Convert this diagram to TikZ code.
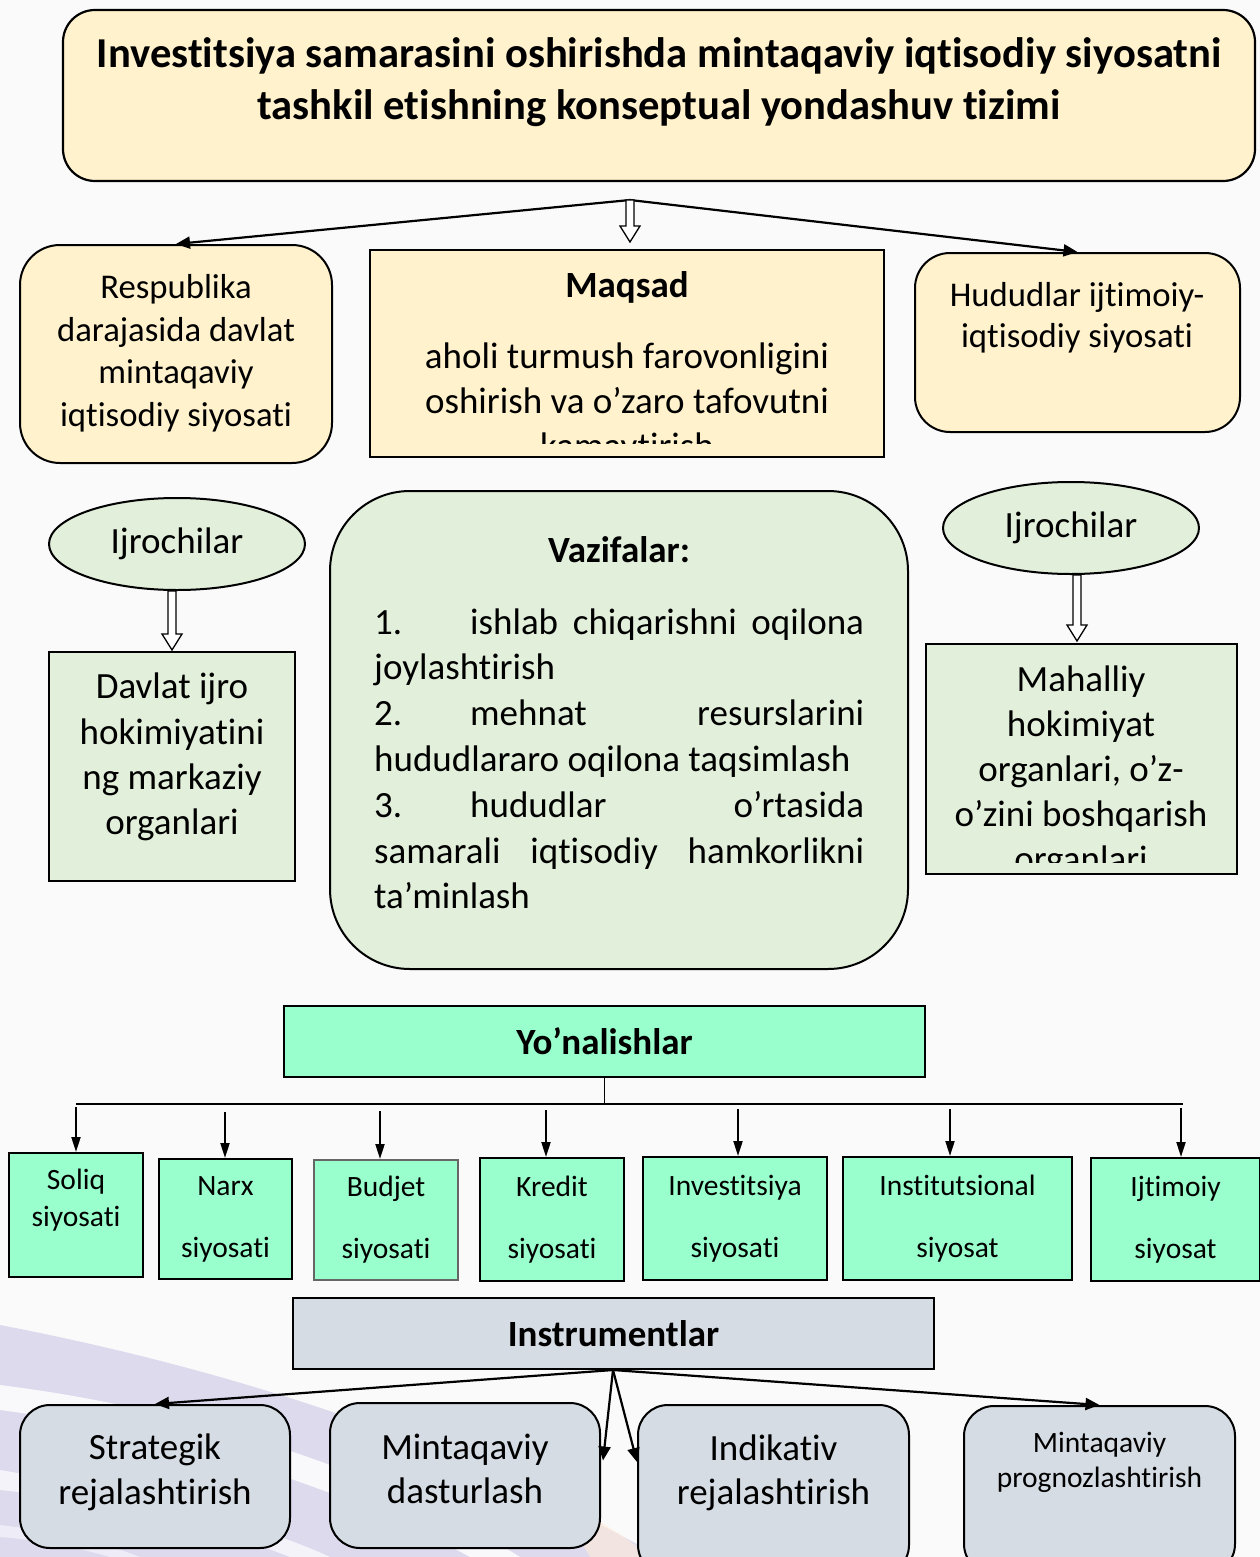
\documentclass[tikz,border=0pt]{standalone}
\usepackage{fontspec}
\setmainfont{Carlito}[Ligatures={NoCommon}]
\usetikzlibrary{arrows.meta,shapes.geometric,calc}
\definecolor{cream}{HTML}{FFF2CC}
\definecolor{pale}{HTML}{E2EFDA}
\definecolor{mint}{HTML}{99FFCC}
\definecolor{slate}{HTML}{D6DCE4}
\definecolor{bgc}{HTML}{FAFAFA}
\definecolor{lav}{HTML}{D6D2EA}
\newcommand\fs[2]{\fontsize{#1}{#2}\selectfont}
\newcommand\hollowarr[2]{%
  \draw[fill=white,line width=1.3pt,line join=miter] let \p1=(#1), \p2=(#2) in
  (\x1-4pt,\y1) -- (\x1-4pt,\y2+16pt) -- (\x1-10pt,\y2+16pt) -- (\x1,\y2) --
  (\x1+10pt,\y2+16pt) -- (\x1+4pt,\y2+16pt) -- (\x1+4pt,\y1) -- cycle;}
\tikzset{
  boxbase/.style={draw=black,line width=2pt,inner sep=0pt},
  txt/.style={inner sep=0pt,align=center},
  vline/.style={anchor=base west,inner sep=0pt,font=\fs{37}{45}},
  cline/.style={anchor=base,inner sep=0pt},
  conn/.style={line width=2.2pt,-{Triangle[length=14pt,width=12pt]}},
  thinarr/.style={line width=2pt,-{Triangle[length=15pt,width=9pt]}},
  smallbox/.style={boxbase,fill=mint,align=center,font=\fs{29.5}{62}},
  bottombox/.style={boxbase,fill=slate,rounded corners=30pt},
}
\begin{document}
\begin{tikzpicture}[x=1pt,y=-1pt]
\fill[bgc] (0,0) rectangle (1260,1557);
\clip (0,0) rectangle (1260,1557);
% decorative background
\fill[lav,opacity=0.8] (0,1325) .. controls (260,1375) and (480,1455) .. (660,1557) -- (0,1557) -- cycle;
\fill[white,opacity=0.85] (0,1385) .. controls (200,1410) and (390,1475) .. (520,1557) -- (470,1557) .. controls (350,1490) and (170,1432) .. (0,1410) -- cycle;
\fill[white,opacity=0.7] (0,1470) .. controls (120,1490) and (250,1520) .. (330,1557) -- (290,1557) .. controls (210,1525) and (100,1500) .. (0,1490) -- cycle;
\fill[white,opacity=0.5] (0,1525) .. controls (60,1532) and (110,1545) .. (140,1557) -- (110,1557) .. controls (80,1548) and (40,1540) .. (0,1537) -- cycle;
\fill[orange!15,opacity=0.6] (560,1500) .. controls (600,1520) and (630,1540) .. (650,1557) -- (590,1557) .. controls (580,1540) and (570,1520) .. (560,1500) -- cycle;

% title
\node[boxbase,fill=cream,rounded corners=32pt,minimum width=1192pt,minimum height=171pt,line width=2.2pt] (title) at (659,95.5) {};
\node[txt,font=\fs{42.6}{52}\bfseries] (titletxt) at (659,82) {Investitsiya samarasini oshirishda mintaqaviy iqtisodiy siyosatni\\tashkil etishning konseptual yondashuv tizimi};
\coordinate (tj) at (630,200);

% top row
\node[boxbase,fill=cream,rounded corners=40pt,minimum width=312pt,minimum height=218pt] (resp) at (176,354) {};
\node[txt,font=\fs{34.7}{42.5}] (resptxt) at (176,353) {Respublika\\darajasida davlat\\mintaqaviy\\iqtisodiy siyosati};
\node[boxbase,fill=cream,minimum width=514pt,minimum height=207pt] (maq) at (627,353.5) {};
\node[txt,font=\fs{37}{45}\bfseries] (maqtitle) at (627,287) {Maqsad};
\begin{scope}
\clip (372,252) rectangle (882,443);
\node[cline,font=\fs{37}{45}] (m1) at (627,368) {aholi turmush farovonligini};
\node[cline,font=\fs{37}{45}] (m2) at (627,413) {oshirish va o’zaro tafovutni};
\node[cline,font=\fs{37}{45}] (m3) at (627,458) {kamaytirish};
\end{scope}
\node[boxbase,fill=cream,rounded corners=35pt,minimum width=325pt,minimum height=179pt] (hud) at (1077.5,342.5) {};
\node[txt,font=\fs{34.7}{41}] (hudtxt) at (1077,318) {Hududlar ijtimoiy-\\iqtisodiy siyosati};

\draw[conn] (tj) -- (resp.north);
\draw[conn] (tj) -- (hud.north);
\hollowarr{tj}{$(maq.north)+(3,-7)$}

% middle row
\node[boxbase,ellipse,fill=pale,minimum width=256pt,minimum height=92pt,font=\fs{37}{40}] (ijL) at (177,544) {Ijrochilar};
\node[boxbase,fill=pale,minimum width=246pt,minimum height=229pt] (davlat) at (172,766.5) {};
\node[txt,font=\fs{37}{45.3}] (davlattxt) at (172,757) {Davlat ijro\\hokimiyatini\\ng markaziy\\organlari};
\hollowarr{ijL.south -| davlat.north}{$(davlat.north)+(0,-1)$}

\node[boxbase,fill=pale,rounded corners=80pt,minimum width=578pt,minimum height=478pt] (vaz) at (619,730) {};
\node[txt,font=\fs{37}{45}\bfseries] (vaztitle) at (619,550) {Vazifalar:};
\node[vline] (v1) at (374,634) {\makebox[96pt][l]{1.}\makebox[394pt][s]{ishlab chiqarishni oqilona}};
\node[vline] (v2) at (374,679.8) {joylashtirish};
\node[vline] (v3) at (374,725.6) {\makebox[96pt][l]{2.}\makebox[394pt][s]{mehnat resurslarini}};
\node[vline] (v4) at (374,771.4) {hududlararo oqilona taqsimlash};
\node[vline] (v5) at (374,817.2) {\makebox[96pt][l]{3.}\makebox[394pt][s]{hududlar o’rtasida}};
\node[vline] (v6) at (374,863) {\makebox[490pt][s]{samarali iqtisodiy hamkorlikni}};
\node[vline] (v7) at (374,908.8) {ta’minlash};

\node[boxbase,ellipse,fill=pale,minimum width=256pt,minimum height=92pt,font=\fs{37}{40}] (ijR) at (1071,528) {Ijrochilar};
\node[boxbase,fill=pale,minimum width=311pt,minimum height=230pt] (mah) at (1081.5,759) {};
\begin{scope}
\clip (928,646) rectangle (1235,862);
\node[cline,font=\fs{37}{45}] (h1) at (1081,691) {Mahalliy};
\node[cline,font=\fs{37}{45}] (h2) at (1081,736) {hokimiyat};
\node[cline,font=\fs{37}{45}] (h3) at (1081,781) {organlari, o’z-};
\node[cline,font=\fs{37}{45}] (h4) at (1081,826) {o’zini boshqarish};
\node[cline,font=\fs{37}{45}] (h5) at (1081,871) {organlari};
\end{scope}
\hollowarr{$(ijR.south)+(6,0)$}{$(mah.north)+(-4.5,-2)$}

% directions
\node[boxbase,fill=mint,minimum width=641pt,minimum height=71pt,font=\fs{37}{40}\bfseries] (yon) at (604.5,1041.5) {Yo’nalishlar};
\coordinate (busL) at (76,1104);
\coordinate (busR) at (1183,1104);
\draw[line width=1.5pt] (yon.south) -- (yon.south |- busL);
\draw[line width=2pt] (busL) -- (busR);

\node[boxbase,fill=mint,minimum width=134pt,minimum height=124pt] (soliq) at (76,1215) {};
\node[txt,font=\fs{29.5}{37}] (soliqtxt) at (76,1200) {Soliq\\siyosati};
\node[smallbox,minimum width=133pt,minimum height=120pt] (narx) at (225.5,1219) {Narx\\siyosati};
\node[smallbox,minimum width=144pt,minimum height=120pt,draw=black!60] (budjet) at (386,1220) {Budjet\\siyosati};
\node[smallbox,minimum width=144pt,minimum height=123pt] (kredit) at (552,1219.5) {Kredit\\siyosati};
\node[smallbox,minimum width=184pt,minimum height=123pt] (invest) at (735,1218.5) {Investitsiya\\siyosati};
\node[smallbox,minimum width=229pt,minimum height=123pt] (instit) at (957.5,1218.5) {Institutsional\\siyosat};
\node[smallbox,minimum width=169pt,minimum height=123pt] (ijtim) at (1175.5,1219.5) {Ijtimoiy\\siyosat};

\coordinate (a1) at (76,1107);
\coordinate (a2) at (225,1112);
\coordinate (a3) at (380,1111);
\coordinate (a4) at (546,1110);
\coordinate (a5) at (738,1109);
\coordinate (a6) at (950,1109);
\coordinate (a7) at (1181,1108);
\draw[thinarr] (a1) -- (a1 |- soliq.north);
\draw[thinarr] (a2) -- (a2 |- narx.north);
\draw[thinarr] (a3) -- (a3 |- budjet.north);
\draw[thinarr] (a4) -- (a4 |- kredit.north);
\draw[thinarr] (a5) -- (a5 |- invest.north);
\draw[thinarr] (a6) -- (a6 |- instit.north);
\draw[thinarr] (a7) -- (a7 |- ijtim.north);

% instruments
\node[boxbase,fill=slate,minimum width=641pt,minimum height=71pt,font=\fs{37}{40}\bfseries] (instr) at (613.5,1333.5) {Instrumentlar};
\node[bottombox,minimum width=270pt,minimum height=143pt] (strat) at (155,1476.5) {};
\node[txt,font=\fs{37}{45}] (strattxt) at (155,1472.5) {Strategik\\rejalashtirish};
\node[bottombox,minimum width=270pt,minimum height=145pt] (mdas) at (465,1475.5) {};
\node[txt,font=\fs{37}{44}] (mdastxt) at (465,1468.5) {Mintaqaviy\\dasturlash};
\node[bottombox,minimum width=271pt,minimum height=170pt] (indik) at (773.5,1490) {};
\node[txt,font=\fs{37}{44}] (indiktxt) at (773.5,1473) {Indikativ\\rejalashtirish};
\node[bottombox,minimum width=271pt,minimum height=168pt] (prog) at (1099.5,1490) {};
\node[txt,font=\fs{29.5}{35}] (progtxt) at (1099.5,1462.5) {Mintaqaviy\\prognozlashtirish};

\coordinate (ij2) at (613,1370);
\draw[conn] (ij2) -- (strat.north);
\draw[conn] (ij2) -- ($(mdas.east)+(2,-15)$);
\draw[conn] (ij2) -- ($(indik.west)+(0,-28)$);
\draw[conn] (ij2) -- (prog.north);
\end{tikzpicture}
\end{document}
